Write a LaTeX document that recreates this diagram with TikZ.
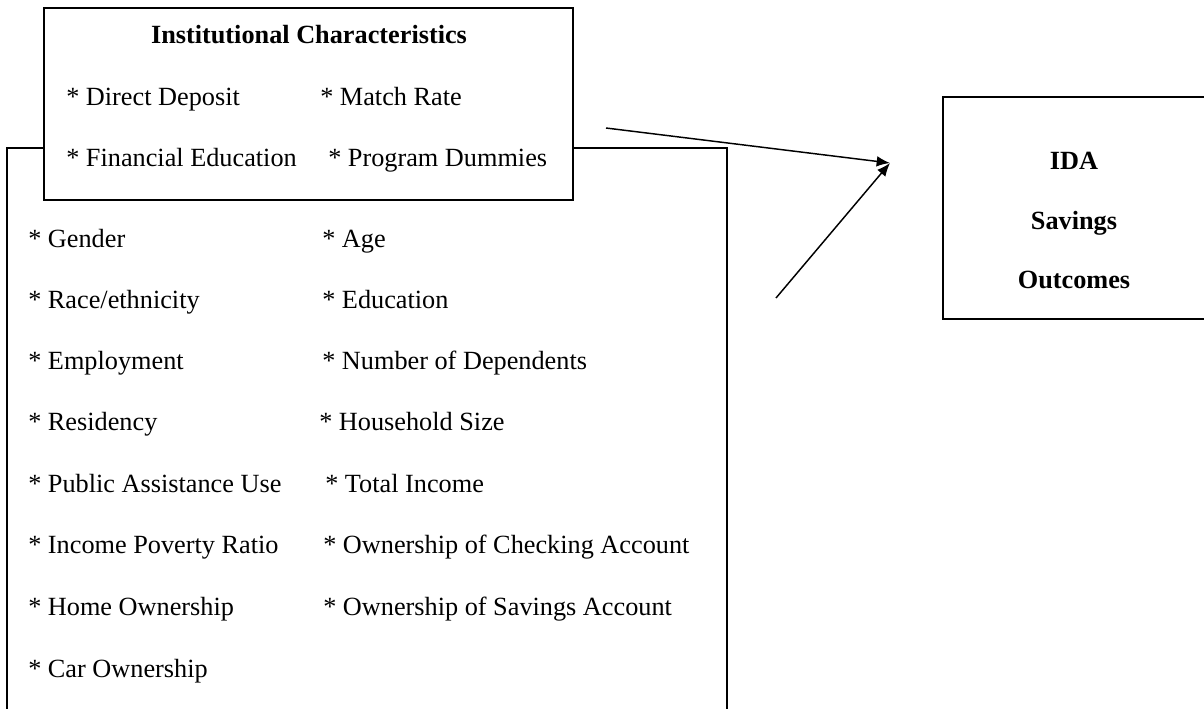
\documentclass[tikz,border=0pt]{standalone}
\usepackage{fontspec}
\setmainfont{Liberation Serif}
\usetikzlibrary{arrows.meta}
\begin{document}
\begin{tikzpicture}[x=0.75pt,y=-0.75pt,
  every node/.style={inner sep=0pt, font=\fontsize{19.7}{23}\selectfont},
  boxline/.style={line width=1.3pt},
  item/.style={anchor=base west},
  head/.style={anchor=base, font=\fontsize{19.7}{23}\selectfont\bfseries},
  conn/.style={line width=1.1pt, -{Latex[length=10pt,width=8pt]}}]
\useasboundingbox (0,0) rectangle (1204,709);
% large characteristics box (open at bottom)
\coordinate (bl) at (7,712);
\coordinate (br) at (727,712);
\draw[boxline] (bl) -- (7,148) -- (727,148) -- (br);
% institutional box
\node[draw, boxline, fill=white, minimum width=529*0.75pt, minimum height=192*0.75pt] (inst) at (308.5,104) {};
% outcomes box (right side runs off the page)
\node[draw, boxline, minimum width=266*0.75pt, minimum height=222*0.75pt] (out) at (1076,208) {};
% texts
\node[head] (t0) at (309,44) {Institutional Characteristics};
\node[item] (i1) at (66,106) {* Direct Deposit};
\node[item] (i2) at (320,106) {* Match Rate};
\node[item] (i3) at (66,167) {* Financial Education};
\node[item] (i4) at (328,167) {* Program Dummies};
\node[item] (c1) at (28,248) {* Gender};
\node[item] (c2) at (322,248) {* Age};
\node[item] (c3) at (28,309) {* Race/ethnicity};
\node[item] (c4) at (322,309) {* Education};
\node[item] (c5) at (28,370) {* Employment};
\node[item] (c6) at (322,370) {* Number of Dependents};
\node[item] (c7) at (28,431) {* Residency};
\node[item] (c8) at (319,431) {* Household Size};
\node[item] (c9) at (28,492) {* Public Assistance Use};
\node[item] (c10) at (325,492) {* Total Income};
\node[item] (c11) at (28,553) {* Income Poverty Ratio};
\node[item] (c12) at (323,553) {* Ownership of Checking Account};
\node[item] (c13) at (28,615) {* Home Ownership};
\node[item] (c14) at (323,615) {* Ownership of Savings Account};
\node[item] (c15) at (28,677) {* Car Ownership};
\node[head] (o1) at (1074,170) {IDA};
\node[head] (o2) at (1074,230) {Savings};
\node[head] (o3) at (1074,289) {Outcomes};
% connectors
\coordinate (s1) at (606,128);
\coordinate (s2) at (776,298);
\coordinate (tip) at (890,163);
\draw[conn] (s1) -- (tip);
\draw[conn] (s2) -- (tip);
\end{tikzpicture}
\end{document}
